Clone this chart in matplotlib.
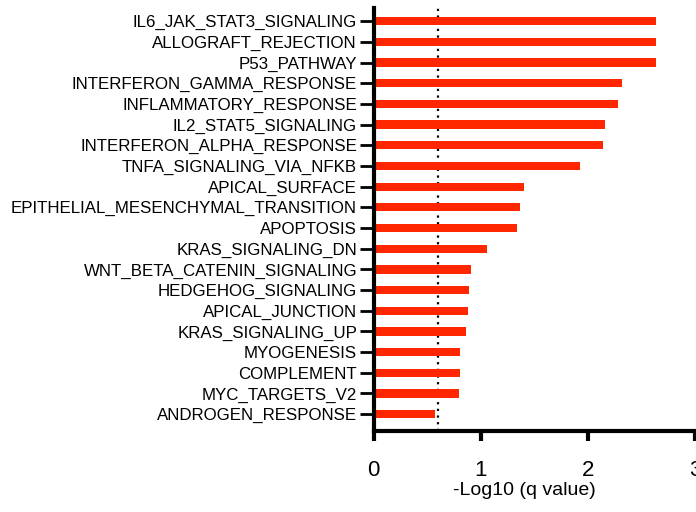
import numpy as np
import matplotlib
matplotlib.use('Agg')
import matplotlib.pyplot as plt

plt.rcParams['font.family'] = ['Liberation Sans', 'DejaVu Sans']

# Hallmark pathways, top to bottom
pathways = [
    'IL6_JAK_STAT3_SIGNALING', 'ALLOGRAFT_REJECTION', 'P53_PATHWAY',
    'INTERFERON_GAMMA_RESPONSE', 'INFLAMMATORY_RESPONSE', 'IL2_STAT5_SIGNALING',
    'INTERFERON_ALPHA_RESPONSE', 'TNFA_SIGNALING_VIA_NFKB', 'APICAL_SURFACE',
    'EPITHELIAL_MESENCHYMAL_TRANSITION', 'APOPTOSIS', 'KRAS_SIGNALING_DN',
    'WNT_BETA_CATENIN_SIGNALING', 'HEDGEHOG_SIGNALING', 'APICAL_JUNCTION',
    'KRAS_SIGNALING_UP', 'MYOGENESIS', 'COMPLEMENT', 'MYC_TARGETS_V2',
    'ANDROGEN_RESPONSE',
]
neg_log_q = [2.64, 2.64, 2.64, 2.32, 2.28, 2.16, 2.14, 1.93, 1.40, 1.37,
             1.34, 1.06, 0.91, 0.89, 0.88, 0.86, 0.81, 0.81, 0.80, 0.57]
q_cutoff = 0.25

fig = plt.figure(figsize=(6.96, 5.12), dpi=100)
ax = fig.add_axes([0.537, 0.158, 0.4615, 0.826])

y = np.arange(len(pathways))
ax.axvline(-np.log10(q_cutoff), color='black', linestyle=(0, (1, 2)), lw=1.6, zorder=1)
ax.barh(y, neg_log_q, height=0.4, color='#ff2600', zorder=2)

ax.set_yticks(y)
ax.set_yticklabels(pathways, fontsize=12.2)
ax.set_ylim(len(pathways) - 1 + 0.82, -0.63)
ax.set_xlim(0, 3)
ax.set_xticks([0, 1, 2, 3])
ax.tick_params(axis='x', labelsize=16, length=7, width=3, pad=14)
ax.tick_params(axis='y', length=10, width=2, pad=2)
ax.set_xlabel('-Log10 (q value)', fontsize=14, labelpad=2)
ax.xaxis.set_label_coords(0.47, -0.12)

for s in ['top', 'right']:
    ax.spines[s].set_visible(False)
for s in ['left', 'bottom']:
    ax.spines[s].set_linewidth(3)

fig.savefig('out.png', dpi=100)
